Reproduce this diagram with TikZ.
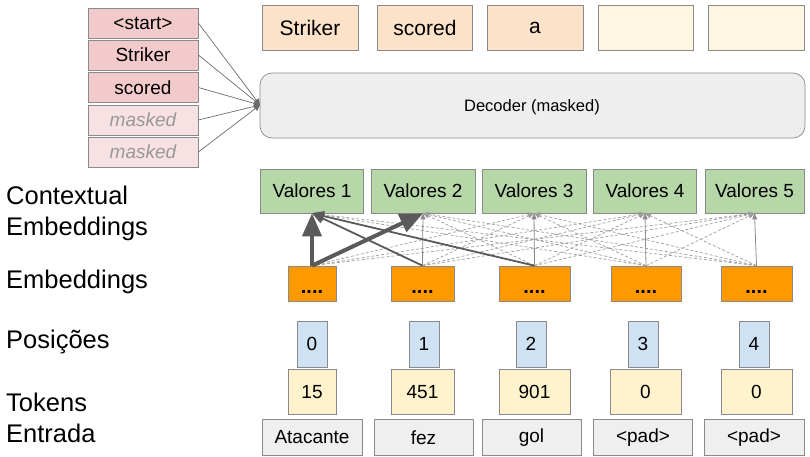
\documentclass[tikz,border=0pt]{standalone}
\usepackage{fontspec}
\setmainfont{Liberation Sans}
\usetikzlibrary{arrows.meta}
\definecolor{prevred}{HTML}{F2CACB}
\definecolor{maskred}{HTML}{F8E1E2}
\definecolor{outpeach}{HTML}{FBE2C9}
\definecolor{outpale}{HTML}{FFF6E2}
\definecolor{decgray}{HTML}{EEEEEE}
\definecolor{valgreen}{HTML}{B6D7A8}
\definecolor{emborange}{HTML}{FF9900}
\definecolor{posblue}{HTML}{CFE2F3}
\definecolor{idyellow}{HTML}{FFF2CC}
\definecolor{wordgray}{HTML}{EFEFEF}
\definecolor{edge}{HTML}{8A8A8A}
\definecolor{attn}{HTML}{5A5A5A}

\begin{document}
\begin{tikzpicture}[x=1pt, y=-1pt,
  cell/.style={draw=edge, line width=0.7pt, inner sep=0pt, text=black,
    font=\fontsize{19}{22}\selectfont},
  embcell/.style={cell, fill=emborange, minimum height=35, text height=20pt, text depth=0pt,
    font=\fontsize{20}{22}\bfseries},
  lbl/.style={anchor=west, align=left, inner sep=0pt, font=\fontsize{25.5}{31}\selectfont},
  thinarr/.style={-{Triangle[length=6pt, width=5pt]}, draw=edge, line width=0.8pt},
  dasharr/.style={-{Triangle[length=6pt, width=5pt]}, draw=black!38, line width=0.7pt, dash pattern=on 3pt off 2pt},
  strongarr/.style={-{Triangle[length=12pt, width=10pt]}, draw=attn, line width=1.8pt},
  topattn/.style={-{Triangle[length=23pt, width=19pt]}, draw=attn, line width=4pt},
  inarr/.style={-{Triangle[length=6pt, width=6pt]}, draw=attn!90, line width=0.7pt}]

% Canvas
\useasboundingbox (0,0) rectangle (810,456);

% Decoder input column
\node[cell, fill=prevred, minimum width=110, minimum height=30] (in1) at (143,23) {<start>};
\node[cell, fill=prevred, minimum width=110, minimum height=30] (in2) at (143,55) {Striker};
\node[cell, fill=prevred, minimum width=110, minimum height=30] (in3) at (143,87.5) {scored};
\node[cell, fill=maskred, minimum width=110, minimum height=30, text=black!40] (in4) at (143,120) {\itshape masked};
\node[cell, fill=maskred, minimum width=110, minimum height=30, text=black!40] (in5) at (143,152) {\itshape masked};

% Decoder block
\node[draw=edge, line width=0.7pt, fill=decgray, rounded corners=12pt, minimum width=545, minimum height=65] (dec) at (532.5,105.5) {};
\node[font=\fontsize{16.5}{20}\selectfont] (dectxt) at (532,107.5) {Decoder (masked)};
\coordinate (decin) at (260,105);
\draw[inarr] (in1.east) -- (decin);
\draw[inarr] (in2.east) -- (decin);
\draw[inarr] (in3.east) -- (decin);
\draw[inarr] (in4.east) -- (decin);
\draw[inarr] (in5.east) -- (decin);

% Decoder outputs
\node[cell, fill=outpeach, minimum width=96, minimum height=45, font=\fontsize{21}{24}\selectfont] (out1) at (310,28) {Striker};
\node[cell, fill=outpeach, minimum width=95, minimum height=45, font=\fontsize{21}{24}\selectfont] (out2) at (425,28) {scored};
\node[cell, fill=outpeach, minimum width=96, minimum height=45, font=\fontsize{21}{24}\selectfont] (out3) at (535,28) {a};
\node[cell, fill=outpale, minimum width=95, minimum height=45] (out4) at (646,28) {};
\node[cell, fill=outpale, minimum width=96, minimum height=45] (out5) at (756,28) {};

% Row labels
\node[lbl] (lctx) at (6,213) {Contextual\\Embeddings};
\node[lbl] (lemb) at (6,282) {Embeddings};
\node[lbl] (lpos) at (6,342) {Posições};
\node[lbl] (ltok) at (6,418) {Tokens\\Entrada};

% Contextual embeddings
\node[cell, fill=valgreen, minimum width=103, minimum height=44] (v1) at (312,191) {Valores 1};
\node[cell, fill=valgreen, minimum width=104, minimum height=44] (v2) at (423,191) {Valores 2};
\node[cell, fill=valgreen, minimum width=104, minimum height=44] (v3) at (534,191) {Valores 3};
\node[cell, fill=valgreen, minimum width=103, minimum height=44] (v4) at (645,191) {Valores 4};
\node[cell, fill=valgreen, minimum width=99, minimum height=44] (v5) at (754.5,191) {Valores 5};

% Embeddings
\node[embcell, minimum width=48] (e1) at (312,283.5) {....};
\node[embcell, minimum width=63] (e2) at (422.5,283.5) {....};
\node[embcell, minimum width=71] (e3) at (534.5,283.5) {....};
\node[embcell, minimum width=70] (e4) at (646,283.5) {....};
\node[embcell, minimum width=71] (e5) at (756.5,283.5) {....};

% Weak attention (dashed)
\draw[dasharr] (e1.north) -- (v3.south);
\draw[dasharr] (e1.north) -- (v4.south);
\draw[dasharr] (e1.north) -- (v5.south);
\draw[dasharr] (e2.north) -- (v3.south);
\draw[dasharr] (e2.north) -- (v4.south);
\draw[dasharr] (e2.north) -- (v5.south);
\draw[dasharr] (e3.north) -- (v2.south);
\draw[dasharr] (e3.north) -- (v4.south);
\draw[dasharr] (e3.north) -- (v5.south);
\draw[dasharr] (e4.north) -- (v1.south);
\draw[dasharr] (e4.north) -- (v2.south);
\draw[dasharr] (e4.north) -- (v3.south);
\draw[dasharr] (e4.north) -- (v5.south);
\draw[dasharr] (e5.north) -- (v1.south);
\draw[dasharr] (e5.north) -- (v2.south);
\draw[dasharr] (e5.north) -- (v3.south);
\draw[dasharr] (e5.north) -- (v4.south);

% Self attention
\draw[thinarr] (e2.north) -- (v2.south);
\draw[thinarr] (e3.north) -- (v3.south);
\draw[thinarr] (e4.north) -- (v4.south);
\draw[thinarr] (e5.north) -- (v5.south);

% Strong attention
\draw[strongarr] (e2.north) -- (v1.south);
\draw[strongarr] (e3.north) -- (v1.south);
\draw[topattn] (e1.north) -- (v1.south);
\draw[topattn] (e1.north) -- (v2.south);

% Positions
\node[cell, fill=posblue, minimum width=30, minimum height=46] (p1) at (312,344) {0};
\node[cell, fill=posblue, minimum width=30, minimum height=46] (p2) at (424,344) {1};
\node[cell, fill=posblue, minimum width=30, minimum height=46] (p3) at (531,344) {2};
\node[cell, fill=posblue, minimum width=30, minimum height=46] (p4) at (643,344) {3};
\node[cell, fill=posblue, minimum width=30, minimum height=46] (p5) at (754,344) {4};

% Token ids
\node[cell, fill=idyellow, minimum width=48, minimum height=45] (t1) at (312,392) {15};
\node[cell, fill=idyellow, minimum width=63, minimum height=45] (t2) at (422.5,392) {451};
\node[cell, fill=idyellow, minimum width=71, minimum height=45] (t3) at (534.5,392) {901};
\node[cell, fill=idyellow, minimum width=71, minimum height=45] (t4) at (645.5,392) {0};
\node[cell, fill=idyellow, minimum width=71, minimum height=45] (t5) at (756.5,392) {0};

% Input words
\node[cell, fill=wordgray, minimum width=100, minimum height=36] (w1) at (312,437.5) {Atacante};
\node[cell, fill=wordgray, minimum width=99, minimum height=36] (w2) at (423.5,437.5) {fez};
\node[cell, fill=wordgray, minimum width=99, minimum height=36] (w3) at (531.5,437.5) {gol};
\node[cell, fill=wordgray, minimum width=99, minimum height=36] (w4) at (643,437.5) {<pad>};
\node[cell, fill=wordgray, minimum width=100, minimum height=36] (w5) at (754,437.5) {<pad>};

\end{tikzpicture}
\end{document}
